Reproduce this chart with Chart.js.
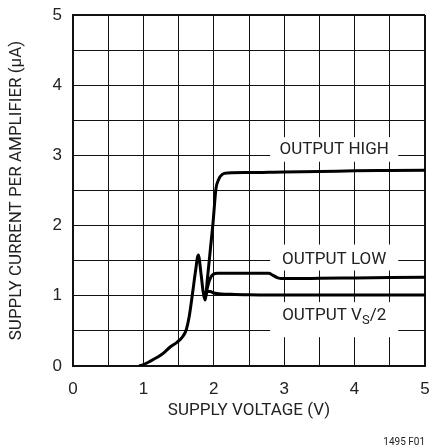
<!DOCTYPE html>
<html>
<head>
<meta charset="utf-8">
<script src="https://cdn.jsdelivr.net/npm/chart.js@4.4.1/dist/chart.umd.min.js"></script>
<style>
  html, body { margin: 0; padding: 0; background: #fff; }
  #wrap { width: 432px; height: 448px; }
</style>
</head>
<body>
<div id="wrap"><canvas id="chart"></canvas></div>
<script>
const FONT = "Roboto, 'Liberation Sans', Arial, sans-serif";
const DIGITS = "'Liberation Sans', Arial, sans-serif";
const TEXT = '#222';

const xTickLabels = ['0', '1', '2', '3', '4', '5'];
const yTickLabels = ['0', '1', '2', '3', '4', '5'];

// supply voltage (V) -> supply current (uA); the high branch carries the common start-up hump
const highVolts = [0.94, 1.0, 1.1, 1.19, 1.28, 1.38, 1.48, 1.56, 1.61, 1.65, 1.7, 1.74, 1.78, 1.82, 1.85, 1.875, 1.91, 1.95, 1.99, 2.03, 2.07, 2.12, 2.2, 2.5, 3.0, 3.5, 4.0, 4.5, 5.0];
const highAmps  = [0, 0.02, 0.07, 0.12, 0.18, 0.27, 0.34, 0.42, 0.52, 0.7, 1.05, 1.35, 1.58, 1.3, 1.05, 0.94, 1.25, 1.65, 2.05, 2.52, 2.66, 2.73, 2.75, 2.755, 2.765, 2.77, 2.78, 2.785, 2.79];

const lowVolts = [1.885, 1.92, 1.96, 2.0, 2.05, 2.2, 2.5, 2.78, 2.84, 2.9, 2.96, 3.2, 3.5, 4.0, 4.5, 5.0];
const lowAmps  = [1.0, 1.16, 1.27, 1.31, 1.32, 1.32, 1.32, 1.32, 1.29, 1.26, 1.245, 1.245, 1.25, 1.255, 1.26, 1.265];

const halfVolts = [1.88, 1.9, 1.95, 2.0, 2.1, 2.3, 3.0, 4.0, 5.0];
const halfAmps  = [0.97, 1.06, 1.06, 1.04, 1.025, 1.02, 1.01, 1.01, 1.01];

const curveNames = ['OUTPUT HIGH', 'OUTPUT LOW', 'OUTPUT V_S/2'];

// label panels in axis units: [x0, x1, y0, y1, text center y]
const labelPanels = [
  [2.8, 4.62, 2.91, 3.26, 3.08],
  [2.8, 4.62, 1.36, 1.73, 1.52],
  [2.8, 4.62, 0.41, 0.91, 0.72],
];

const toPoints = (xs, ys) => xs.map((v, i) => ({x: v, y: ys[i]}));

function curve(label, xs, ys) {
  return {
    label,
    data: toPoints(xs, ys),
    borderColor: '#000',
    borderWidth: 3,
    pointRadius: 0,
    cubicInterpolationMode: 'monotone',
    fill: false,
  };
}

// white panels over the grid with the curve names on top
const curveLabels = {
  id: 'curveLabels',
  beforeDatasetsDraw(chart) {
    const {ctx, scales: {x, y}} = chart;
    ctx.save();
    labelPanels.forEach((p, i) => {
      const left = x.getPixelForValue(p[0]);
      const right = x.getPixelForValue(p[1]);
      const top = y.getPixelForValue(p[3]);
      const bottom = y.getPixelForValue(p[2]);
      ctx.fillStyle = '#fff';
      ctx.fillRect(left, top, right - left, bottom - top);

      const cx = (left + right) / 2;
      const cy = y.getPixelForValue(p[4]);
      ctx.fillStyle = TEXT;
      ctx.textBaseline = 'middle';
      const name = curveNames[i];
      if (name.includes('_')) {
        // "V_S" -> V with subscript S
        const [head, rest] = name.split('_');
        const sub = rest.charAt(0);
        const tail = rest.slice(1);
        ctx.font = `17px ${FONT}`;
        const wHead = ctx.measureText(head).width;
        const wTail = ctx.measureText(tail).width;
        ctx.font = `13px ${FONT}`;
        const wSub = ctx.measureText(sub).width;
        let px = cx - (wHead + wSub + wTail) / 2;
        ctx.textAlign = 'left';
        ctx.font = `17px ${FONT}`;
        ctx.fillText(head, px, cy);
        px += wHead;
        ctx.font = `13px ${FONT}`;
        ctx.fillText(sub, px, cy + 5);
        px += wSub;
        ctx.font = `17px ${FONT}`;
        ctx.fillText(tail, px, cy);
      } else {
        ctx.textAlign = 'center';
        ctx.font = `17px ${FONT}`;
        ctx.fillText(name, cx, cy);
      }
    });
    ctx.restore();
  },
  afterDraw(chart) {
    const {ctx} = chart;
    ctx.save();
    ctx.fillStyle = TEXT;
    ctx.font = `10px ${FONT}`;
    ctx.textAlign = 'right';
    ctx.textBaseline = 'middle';
    ctx.fillText('1495 F01', 425, 442);
    ctx.restore();
  },
};

const edgeWidth = (ctx) => (ctx.tick && ctx.tick.value === 5 ? 2 : 1);

new Chart(document.getElementById('chart'), {
  type: 'line',
  data: {
    datasets: [
      curve(curveNames[0], highVolts, highAmps),
      curve(curveNames[1], lowVolts, lowAmps),
      curve(curveNames[2], halfVolts, halfAmps),
    ],
  },
  options: {
    responsive: true,
    maintainAspectRatio: false,
    animation: false,
    devicePixelRatio: 1,
    layout: {padding: {top: 15, right: 7, left: 0, bottom: 0}},
    scales: {
      x: {
        type: 'linear',
        min: 0,
        max: 5,
        afterFit: (s) => { s.height = 82; },
        ticks: {
          stepSize: 0.5,
          autoSkip: false,
          minRotation: 0,
          maxRotation: 0,
          padding: 0,
          color: TEXT,
          font: {family: DIGITS, size: 17},
          callback: (v) => (Number.isInteger(v) ? xTickLabels[v] : ''),
        },
        grid: {color: '#111', lineWidth: edgeWidth, drawTicks: true, tickLength: 13, tickColor: 'rgba(0,0,0,0)'},
        border: {color: '#111', width: 2},
        title: {
          display: true,
          text: 'SUPPLY VOLTAGE (V)',
          color: TEXT,
          font: {family: FONT, size: 17},
          padding: {top: 0, bottom: 27},
        },
      },
      y: {
        type: 'linear',
        min: 0,
        max: 5,
        afterFit: (s) => { s.width = 73; },
        ticks: {
          stepSize: 0.5,
          autoSkip: false,
          minRotation: 0,
          maxRotation: 0,
          padding: 0,
          color: TEXT,
          font: {family: DIGITS, size: 17},
          callback: (v) => (Number.isInteger(v) ? yTickLabels[v] : ''),
        },
        grid: {color: '#111', lineWidth: edgeWidth, drawTicks: true, tickLength: 11, tickColor: 'rgba(0,0,0,0)'},
        border: {color: '#111', width: 2},
        title: {
          display: true,
          text: 'SUPPLY CURRENT PER AMPLIFIER (µA)',
          color: TEXT,
          font: {family: FONT, size: 17},
          padding: {top: 7, bottom: 0},
        },
      },
    },
    plugins: {
      legend: {display: false},
      tooltip: {enabled: false},
    },
  },
  plugins: [curveLabels],
});
</script>
</body>
</html>
